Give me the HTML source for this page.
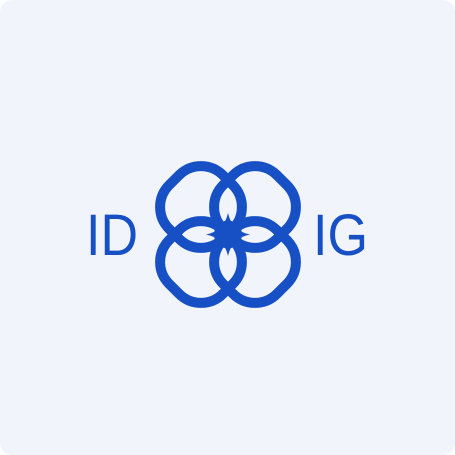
<!DOCTYPE html>
<html><head><meta charset="utf-8"><style>
html,body{margin:0;padding:0;background:#fff;}
#card{position:absolute;left:0;top:0;width:455px;height:455px;border-radius:12px;background:#f1f5fb;overflow:hidden;}
svg{position:absolute;left:0;top:0;}
</style></head><body>
<div id="card">
<svg width="455" height="455" viewBox="0 0 455 455">
  <g fill="none" stroke="#1650c4" stroke-width="10">
    <rect x="-38" y="-38" width="76" height="76" rx="31" transform="translate(201,207) rotate(45)"/>
    <rect x="-38" y="-38" width="76" height="76" rx="31" transform="translate(255,207) rotate(45)"/>
    <rect x="-38" y="-38" width="76" height="76" rx="31" transform="translate(201,262) rotate(45)"/>
    <rect x="-38" y="-38" width="76" height="76" rx="31" transform="translate(255,262) rotate(45)"/>
  </g>
  <g fill="#1650c4">
    <circle cx="228" cy="234.5" r="14"/>
    <path d="M228 213 Q232 231 250 234.5 Q232 238 228 256 Q224 238 206 234.5 Q224 231 228 213Z"/>
  </g>
  <text x="86" y="255" font-family="Liberation Sans, sans-serif" font-size="58" fill="#1650c4" textLength="52" lengthAdjust="spacingAndGlyphs">ID</text>
  <text x="313" y="255" font-family="Liberation Sans, sans-serif" font-size="58" fill="#1650c4" textLength="55" lengthAdjust="spacingAndGlyphs">IG</text>
</svg>
</div>
</body></html>
